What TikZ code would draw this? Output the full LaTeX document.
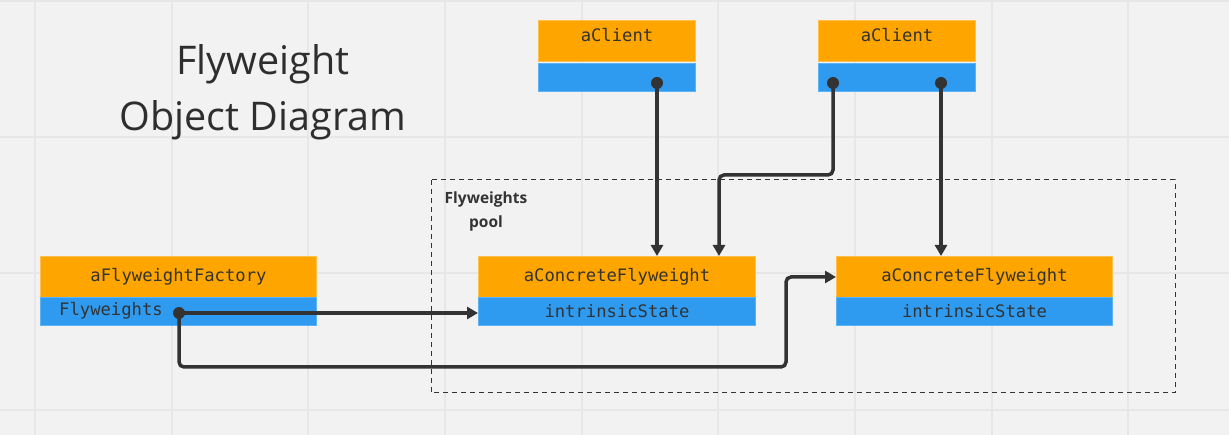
\documentclass[tikz,border=0pt]{standalone}
\usepackage{fontspec}
\setmainfont{Open Sans}
\newfontfamily\boxfont{DejaVu Sans Mono}
\usetikzlibrary{arrows.meta}
\definecolor{bgc}{HTML}{F2F2F2}
\definecolor{gridc}{HTML}{E7E7E7}
\definecolor{orng}{HTML}{FFA500}
\definecolor{orngb}{HTML}{FFC04D}
\definecolor{blu}{HTML}{2E9BF0}
\definecolor{blub}{HTML}{5DB2F4}
\definecolor{ink}{HTML}{333333}
\tikzset{
  x=1pt, y=1pt,
  boxtext/.style={font=\boxfont\fontsize{17.2}{18}\selectfont, text=ink},
  otop/.style={rectangle, fill=orng, draw=orngb, line width=1pt, anchor=north west, inner sep=0pt,
    boxtext, minimum height=41pt},
  bbot/.style={rectangle, fill=blu, draw=blub, line width=1pt, anchor=north west, inner sep=0pt,
    boxtext, minimum height=28pt},
  conn/.style={draw=ink, line width=3.5pt, rounded corners=5pt, -{Triangle[length=11pt,width=12pt]}},
  dotc/.style={fill=ink},
}
\begin{document}
\begin{tikzpicture}
\fill[bgc] (0,0) rectangle (1229,-435);
\useasboundingbox (0,0) rectangle (1229,-435);
\foreach \gx in {35,172,308,445,582,718,855,992,1128}
  \draw[gridc, line width=1.2pt] (\gx,0) -- (\gx,-435);
\foreach \gy in {1,137,273,410}
  \draw[gridc, line width=1.2pt] (0,-\gy) -- (1229,-\gy);

% title
\node[font=\fontsize{39.5}{56}\selectfont, text=ink!90!black, align=center] (title) at (263,-92) {Flyweight\\Object Diagram};

% pool
\draw[ink, line width=1pt, dash pattern=on 5pt off 4pt] (431,-180) rectangle (1175,-393);
\node[font=\bfseries\fontsize{15.5}{24}\selectfont, text=ink, align=center] (pool) at (486,-211) {Flyweights\\pool};

% clients
\node[otop, minimum width=157pt] (c1t) at (538,-20) {};
\node[boxtext] (c1l) at ([yshift=6pt]c1t.center) {aClient};
\node[bbot, minimum width=157pt] (c1b) at (538,-63) {};
\node[otop, minimum width=157pt] (c2t) at (818,-20) {};
\node[boxtext] (c2l) at ([yshift=6pt]c2t.center) {aClient};
\node[bbot, minimum width=157pt] (c2b) at (818,-63) {};

% factory
\node[otop, minimum width=276pt] (ft) at (40,-256) {aFlyweightFactory};
\node[bbot, minimum width=276pt] (fb) at (40,-297) {};
\node[anchor=west, inner sep=0pt, boxtext] (flw) at (59,-311) {Flyweights};

% concrete flyweights
\node[otop, minimum width=277pt] (cf1t) at (478,-256) {aConcreteFlyweight};
\node[bbot, minimum width=277pt] (cf1b) at (478,-297) {intrinsicState};
\node[otop, minimum width=276pt] (cf2t) at (836,-256) {aConcreteFlyweight};
\node[bbot, minimum width=276pt] (cf2b) at (836,-297) {intrinsicState};

% dot coordinates
\coordinate (d1) at (657,-83);
\coordinate (d2) at (833,-83);
\coordinate (d3) at (941,-83);
\coordinate (df) at (179,-313);
\coordinate (k1) at (833,-175);
\coordinate (k2) at (719,-175);
\coordinate (k3) at (179,-367);
\coordinate (k4) at (786,-367);
\coordinate (k5) at (786,-277);

% connectors
\draw[conn] (d1) -- (d1 |- cf1t.north);
\draw[conn] (d2) -- (k1) -- (k2) -- (k2 |- cf1t.north);
\draw[conn] (d3) -- (d3 |- cf2t.north);
\draw[conn] (df) -- (cf1b.west |- df);
\draw[conn] (df) -- (k3) -- (k4) -- (k5) -- (cf2t.west |- k5);

\foreach \d in {d1,d2,d3,df} \fill[dotc] (\d) circle (6pt);
\end{tikzpicture}
\end{document}
